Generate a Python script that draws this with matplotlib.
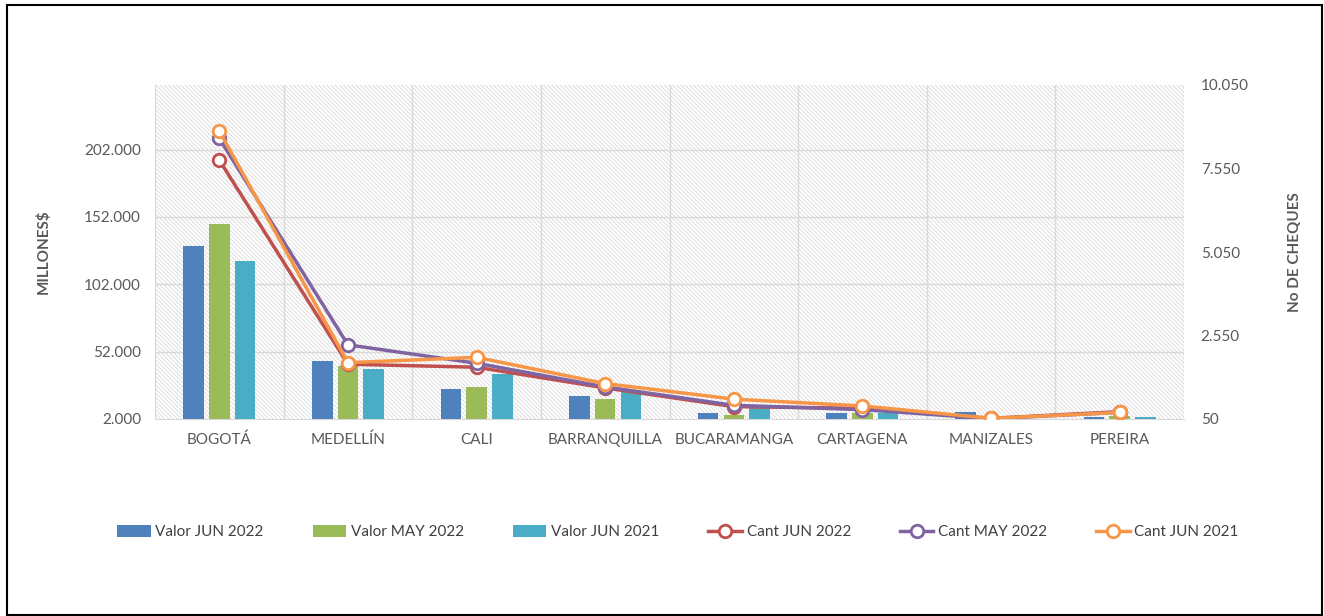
import matplotlib
matplotlib.use("Agg")
import matplotlib.pyplot as plt
import numpy as np
from matplotlib.patches import Rectangle
from matplotlib.ticker import FuncFormatter, FixedLocator

categories = ["BOGOTÁ", "MEDELLÍN", "CALI", "BARRANQUILLA", "BUCARAMANGA",
              "CARTAGENA", "MANIZALES", "PEREIRA"]

valor_jun_2022 = [130400, 44800, 24400, 19200, 6300, 6200, 7000, 3700]
valor_may_2022 = [146800, 41000, 25400, 16900, 5300, 6700, 1500, 4000]
valor_jun_2021 = [119200, 39200, 35300, 23600, 9900, 6200, 1500, 3700]

cant_jun_2022 = [7800, 1690, 1600, 980, 420, 370, 70, 270]
cant_may_2022 = [8450, 2270, 1720, 1010, 460, 330, 60, 250]
cant_jun_2021 = [8670, 1736, 1897, 1110, 645, 440, 70, 245]

left_ticks = [2000, 52000, 102000, 152000, 202000]
right_ticks = [50, 2550, 5050, 7550, 10050]

c_blue, c_green, c_teal = "#4F81BD", "#9BBB59", "#4BACC6"
c_red, c_purple, c_orange = "#C0504D", "#8064A2", "#F79646"
txt = "#595959"
grid = "#d9d9d9"

plt.rcParams['font.family'] = ['Lato', 'DejaVu Sans']
plt.rcParams['hatch.linewidth'] = 0.6

fig = plt.figure(figsize=(13.24, 6.16), dpi=100)
ax = fig.add_axes([155/1324, 1-419/616, (1184-155)/1324, (419-85)/616])

# hatched background
ax.add_patch(Rectangle((0, 0), 1, 1, transform=ax.transAxes, facecolor="white",
                       edgecolor="#d8d8d8", linewidth=0, hatch="\\" * 8, zorder=0))

x = np.arange(len(categories))
w = 0.16
off = 0.2
ax.bar(x - off, valor_jun_2022, w, color=c_blue, zorder=3, label="Valor JUN 2022")
ax.bar(x, valor_may_2022, w, color=c_green, zorder=3, label="Valor MAY 2022")
ax.bar(x + off, valor_jun_2021, w, color=c_teal, zorder=3, label="Valor JUN 2021")

ax.set_xlim(-0.5, len(categories) - 0.5)
ax.set_ylim(2000, 250000)
ax.yaxis.set_major_locator(FixedLocator(left_ticks))
fmt = FuncFormatter(lambda v, p: f"{int(round(v)):,}".replace(",", "."))
ax.yaxis.set_major_formatter(fmt)
ax.set_xticks(x)
ax.set_xticklabels(categories)
ax.tick_params(axis="both", length=0, labelsize=11, colors=txt)
ax.tick_params(axis="x", pad=10)
ax.tick_params(axis="y", pad=10)
for s in ["top", "right", "left"]:
    ax.spines[s].set_visible(False)
ax.spines["bottom"].set_color(grid)
ax.spines["bottom"].set_zorder(2)
for yv in left_ticks[1:]:
    ax.axhline(yv, color=grid, lw=1, zorder=1)
for xv in np.arange(-0.5, len(categories), 1.0):
    ax.axvline(xv, color=grid, lw=1, zorder=1)
ax.set_ylabel("MILLONES$", fontsize=11, fontweight="bold", color=txt, labelpad=24)

ax2 = ax.twinx()
mk = dict(marker="o", markersize=9, markerfacecolor="white", markeredgewidth=2, lw=2.5)
ax2.plot(x, cant_jun_2022, color=c_red, label="Cant JUN 2022", **mk)
ax2.plot(x, cant_may_2022, color=c_purple, label="Cant MAY 2022", **mk)
ax2.plot(x, cant_jun_2021, color=c_orange, label="Cant JUN 2021", **mk)
ax2.set_ylim(50, 10050)
ax2.yaxis.set_major_locator(FixedLocator(right_ticks))
ax2.yaxis.set_major_formatter(fmt)
ax2.tick_params(axis="y", length=0, labelsize=11, colors=txt, pad=12)
for s in ax2.spines.values():
    s.set_visible(False)
ax2.set_ylabel("No DE CHEQUES", fontsize=11, fontweight="bold", color=txt, labelpad=28)

h1, l1 = ax.get_legend_handles_labels()
h2, l2 = ax2.get_legend_handles_labels()
fig.legend(h1 + h2, l1 + l2, loc="center", bbox_to_anchor=(0.512, 1-532/616), ncol=6,
           frameon=False, fontsize=11, labelcolor="#404040", handlelength=2.2, handleheight=0.9,
           columnspacing=3.2, handletextpad=0.3)

fig.add_artist(Rectangle((7/1324, 0.002), (1322-7)/1324, 1-5/616-0.002,
                         transform=fig.transFigure, fill=False, edgecolor="black", lw=1.5))

fig.savefig("out.png", dpi=100)
